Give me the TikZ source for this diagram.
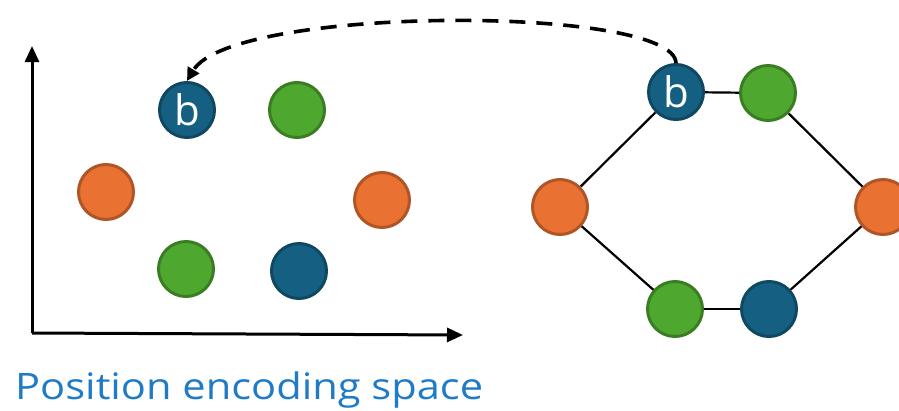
\documentclass[tikz,border=0pt]{standalone}
\usepackage{fontspec}
\setmainfont{Open Sans}
\usetikzlibrary{arrows.meta}
\definecolor{nblue}{HTML}{156082}
\definecolor{nbluedk}{HTML}{104862}
\definecolor{ngreen}{HTML}{4EA72E}
\definecolor{ngreendk}{HTML}{3B7D23}
\definecolor{norange}{HTML}{E97132}
\definecolor{norangedk}{HTML}{AF5526}
\definecolor{ntext}{HTML}{1F7BC6}
\begin{document}
\begin{tikzpicture}[x=1pt,y=-1pt,
  dot/.style={circle,minimum size=55pt,inner sep=0pt,line width=3pt},
  bdot/.style={dot,fill=nblue,draw=nbluedk,text=white,font=\fontsize{42}{42}\selectfont},
  gdot/.style={dot,fill=ngreen,draw=ngreendk},
  odot/.style={dot,fill=norange,draw=norangedk},
  axis/.style={line width=3pt,-{Triangle[length=16pt,width=14pt]}},
  edge/.style={line width=2.2pt},
  jump/.style={line width=3.6pt,dash pattern=on 16pt off 11pt,-{Triangle[length=13pt,width=13pt]}}]
\useasboundingbox (0,0) rectangle (899,410);
% axes
\coordinate (O) at (32,333);
\coordinate (Y) at (32,46);
\coordinate (X) at (463,335);
\draw[axis] (O) -- (Y);
\draw[axis] (O) -- (X);
% left nodes
\node[bdot] (Lb) at (187,110) {b};
\node[gdot] (Lg1) at (297,110) {};
\node[odot] (Lo1) at (106,192) {};
\node[odot] (Lo2) at (382,200) {};
\node[gdot] (Lg2) at (186,269) {};
\node[bdot] (Lbl) at (299,271) {};
% right graph
\node[bdot] (Rb) at (676,92) {b};
\node[gdot] (Rg1) at (768,93) {};
\node[odot] (Ro1) at (560,207) {};
\node[odot] (Ro2) at (883,207) {};
\node[gdot] (Rg2) at (675,309) {};
\node[bdot] (Rbl) at (769,309) {};
\draw[edge] (Rb) -- (Rg1);
\draw[edge] (Rg1) -- (Ro2);
\draw[edge] (Ro2) -- (Rbl);
\draw[edge] (Rbl) -- (Rg2);
\draw[edge] (Rg2) -- (Ro1);
\draw[edge] (Ro1) -- (Rb);
% dashed arrow
\draw[jump] (Rb.north) .. controls (674,5) and (232,5) .. (Lb.north);
% caption
\node[anchor=base west,inner sep=0pt,text=ntext,font=\fontsize{36.5}{36.5}\selectfont] (cap) at (15,399) {\scalebox{1.14}[1]{Position encoding space}};
\end{tikzpicture}
\end{document}
